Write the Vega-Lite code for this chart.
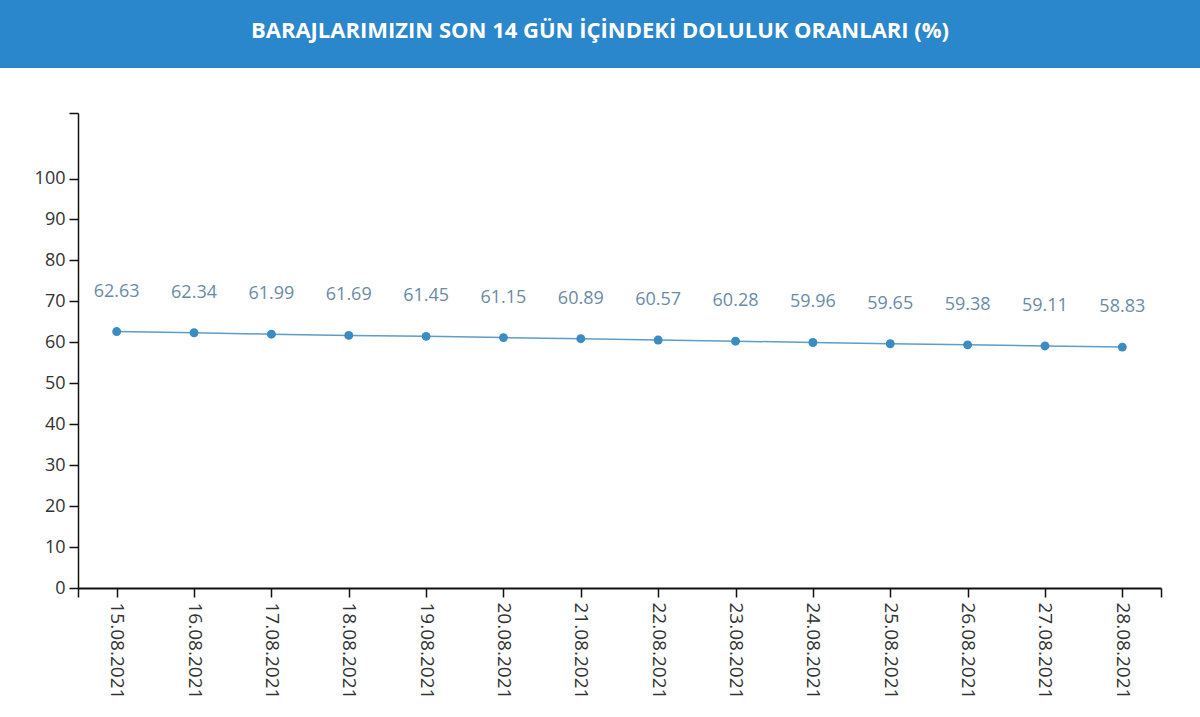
{
  "$schema": "https://vega.github.io/schema/vega-lite/v6.json",
  "padding": 0,
  "background": "white",
  "config": {"view": {"stroke": null}},
  "spacing": 44,
  "vconcat": [
    {
      "width": 1122,
      "height": 68,
      "view": {"fill": "#2a87cb", "stroke": null},
      "data": {"values": [{"baslik": "BARAJLARIMIZIN SON 14 GÜN İÇİNDEKİ DOLULUK ORANLARI (%)"}]},
      "mark": {
        "type": "text",
        "font": "Open Sans",
        "fontWeight": "bold",
        "fontSize": 22,
        "color": "white",
        "align": "center",
        "baseline": "middle",
        "dx": -39,
        "dy": -3
      },
      "encoding": {
        "y": {
          "field": "baslik",
          "type": "nominal",
          "scale": {"paddingInner": 0, "paddingOuter": 0},
          "axis": {
            "title": null,
            "labels": false,
            "ticks": false,
            "domain": true,
            "translate": 0,
            "domainColor": "#2a87cb",
            "domainWidth": 158,
            "domainCap": "butt",
            "minExtent": 78,
            "maxExtent": 78
          }
        },
        "text": {"field": "baslik", "type": "nominal"}
      }
    },
    {
      "width": 1083,
      "height": 475,
      "data": {
        "values": [
          {"tarih": "2021-08-15T00:00:00", "oran": 62.63},
          {"tarih": "2021-08-16T00:00:00", "oran": 62.34},
          {"tarih": "2021-08-17T00:00:00", "oran": 61.99},
          {"tarih": "2021-08-18T00:00:00", "oran": 61.69},
          {"tarih": "2021-08-19T00:00:00", "oran": 61.45},
          {"tarih": "2021-08-20T00:00:00", "oran": 61.15},
          {"tarih": "2021-08-21T00:00:00", "oran": 60.89},
          {"tarih": "2021-08-22T00:00:00", "oran": 60.57},
          {"tarih": "2021-08-23T00:00:00", "oran": 60.28},
          {"tarih": "2021-08-24T00:00:00", "oran": 59.96},
          {"tarih": "2021-08-25T00:00:00", "oran": 59.65},
          {"tarih": "2021-08-26T00:00:00", "oran": 59.38},
          {"tarih": "2021-08-27T00:00:00", "oran": 59.11},
          {"tarih": "2021-08-28T00:00:00", "oran": 58.83}
        ]
      },
      "encoding": {
        "x": {
          "field": "tarih",
          "type": "temporal",
          "scale": {
            "domain": [
              {"year": 2021, "month": 8, "date": 14, "hours": 12},
              {"year": 2021, "month": 8, "date": 28, "hours": 12}
            ]
          },
          "axis": {
            "title": null,
            "grid": false,
            "values": [
              {"year": 2021, "month": 8, "date": 14, "hours": 12},
              {"year": 2021, "month": 8, "date": 15},
              {"year": 2021, "month": 8, "date": 16},
              {"year": 2021, "month": 8, "date": 17},
              {"year": 2021, "month": 8, "date": 18},
              {"year": 2021, "month": 8, "date": 19},
              {"year": 2021, "month": 8, "date": 20},
              {"year": 2021, "month": 8, "date": 21},
              {"year": 2021, "month": 8, "date": 22},
              {"year": 2021, "month": 8, "date": 23},
              {"year": 2021, "month": 8, "date": 24},
              {"year": 2021, "month": 8, "date": 25},
              {"year": 2021, "month": 8, "date": 26},
              {"year": 2021, "month": 8, "date": 27},
              {"year": 2021, "month": 8, "date": 28},
              {"year": 2021, "month": 8, "date": 28, "hours": 12}
            ],
            "labelExpr": "hours(datum.value) == 12 ? '' : timeFormat(datum.value, '%d.%m.%Y')",
            "labelAngle": 90,
            "labelAlign": "left",
            "labelBaseline": "middle",
            "labelPadding": 5,
            "labelOverlap": false,
            "labelFlush": false,
            "labelBound": false,
            "labelFont": "Open Sans",
            "labelFontSize": 19,
            "labelColor": "#333333",
            "tickSize": 9,
            "tickColor": "#111111",
            "tickWidth": 1.5,
            "domainColor": "#111111",
            "domainWidth": 2
          }
        },
        "y": {
          "field": "oran",
          "type": "quantitative",
          "scale": {"domain": [0, 116], "nice": false, "zero": true},
          "axis": {
            "title": null,
            "grid": false,
            "values": [0, 10, 20, 30, 40, 50, 60, 70, 80, 90, 100, 116],
            "labelExpr": "datum.value > 100 ? '' : datum.label",
            "labelPadding": 4,
            "labelFont": "Open Sans",
            "labelFontSize": 18,
            "labelColor": "#333333",
            "tickSize": 9,
            "tickColor": "#111111",
            "tickWidth": 1.5,
            "domainColor": "#111111",
            "domainWidth": 1.5,
            "minExtent": 78,
            "maxExtent": 78
          }
        }
      },
      "layer": [
        {"mark": {"type": "line", "color": "#5a9fc8", "strokeWidth": 1.5}},
        {"mark": {"type": "point", "filled": true, "opacity": 1, "color": "#3a8cc1", "size": 80}},
        {
          "mark": {
            "type": "text",
            "font": "Open Sans",
            "fontSize": 18,
            "color": "#6a8ba6",
            "baseline": "alphabetic",
            "dy": -35
          },
          "encoding": {"text": {"field": "oran", "type": "quantitative", "format": ".2f"}}
        }
      ]
    }
  ]
}
